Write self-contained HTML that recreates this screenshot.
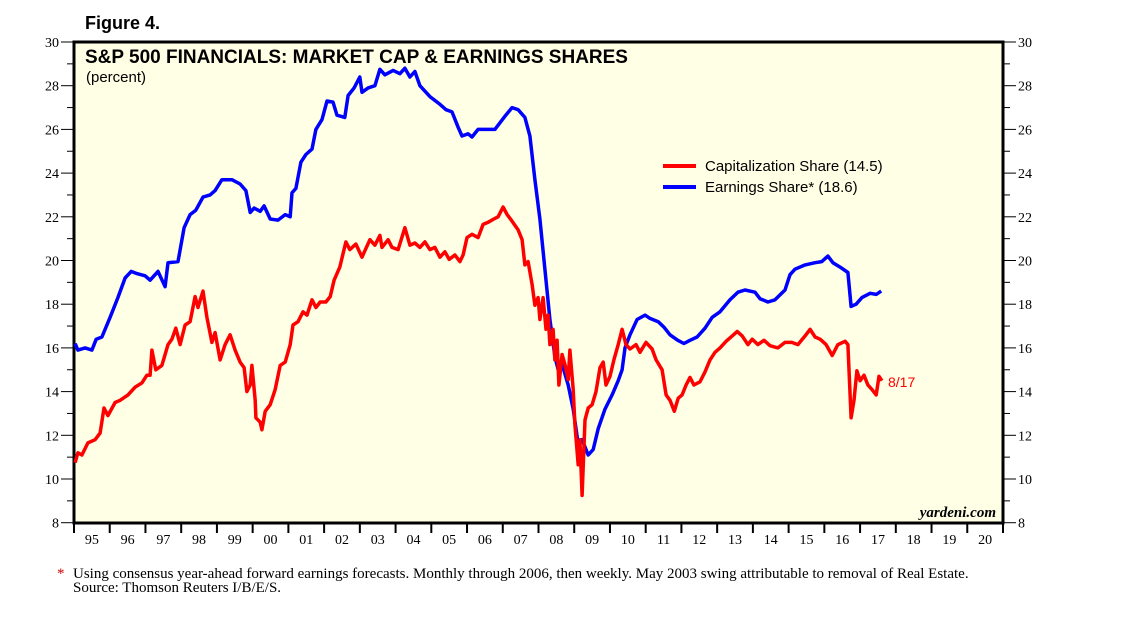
<!DOCTYPE html>
<html><head><meta charset="utf-8"><style>
body{margin:0;background:#fff;width:1138px;height:621px;overflow:hidden}
svg{display:block}
</style></head><body>
<svg id="chart" width="1138" height="621" xmlns="http://www.w3.org/2000/svg">
<text x="85" y="29" font-family="Liberation Sans, sans-serif" font-weight="bold" font-size="18">Figure 4.</text>
<rect x="74" y="42" width="929" height="481" fill="#FFFFE6" stroke="#000" stroke-width="3"/>
<text x="85" y="63" font-family="Liberation Sans, sans-serif" font-weight="bold" font-size="19">S&amp;P 500 FINANCIALS: MARKET CAP &amp; EARNINGS SHARES</text>
<text x="86" y="82" font-family="Liberation Sans, sans-serif" font-size="15">(percent)</text>
<g id="axes"></g>
<g id="series"></g>
<g>
<line x1="663" y1="166" x2="696" y2="166" stroke="#f00" stroke-width="4"/>
<text x="705" y="171" font-family="Liberation Sans, sans-serif" font-size="15">Capitalization Share (14.5)</text>
<line x1="663" y1="187" x2="696" y2="187" stroke="#00f" stroke-width="4"/>
<text x="705" y="192" font-family="Liberation Sans, sans-serif" font-size="15">Earnings Share* (18.6)</text>
</g>
<text x="888" y="387" fill="#f00" font-family="Liberation Sans, sans-serif" font-size="14">8/17</text>
<text x="996" y="517" text-anchor="end" font-family="Liberation Serif, serif" font-style="italic" font-weight="bold" font-size="15">yardeni.com</text>
<text x="57" y="578" fill="#c00" font-family="Liberation Serif, serif" font-size="15">*</text>
<text x="73" y="578" font-family="Liberation Serif, serif" font-size="15">Using consensus year-ahead forward earnings forecasts. Monthly through 2006, then weekly. May 2003 swing attributable to removal of Real Estate.</text>
<text x="73" y="592" font-family="Liberation Serif, serif" font-size="15">Source: Thomson Reuters I/B/E/S.</text>
</svg>
<script>
const yearLabels=["95","96","97","98","99","00","01","02","03","04","05","06","07","08","09","10","11","12","13","14","15","16","17","18","19","20"];
const yTicks=[8,10,12,14,16,18,20,22,24,26,28,30];
// years since 1995
const earnT=[.03,.11,.31,.50,.62,.78,1.01,1.23,1.43,1.60,1.76,1.99,2.13,2.35,2.55,2.63,2.91,3.08,3.25,3.41,3.61,3.81,3.95,4.14,4.42,4.65,4.81,4.93,5.04,5.21,5.32,5.49,5.71,5.91,6.05,6.10,6.21,6.35,6.49,6.66,6.77,6.94,7.08,7.25,7.36,7.58,7.67,7.84,8.00,8.06,8.23,8.42,8.56,8.70,8.93,9.12,9.26,9.40,9.54,9.68,9.96,10.24,10.41,10.58,10.75,10.86,11.03,11.14,11.31,11.50,11.78,12.06,12.26,12.43,12.62,12.76,12.90,13.04,13.18,13.32,13.46,13.55,13.66,13.83,13.97,14.11,14.22,14.39,14.53,14.67,14.86,15.06,15.23,15.34,15.42,15.56,15.76,15.98,16.12,16.35,16.51,16.68,16.90,17.07,17.24,17.44,17.66,17.86,18.08,18.36,18.58,18.78,19.06,19.20,19.42,19.62,19.90,20.04,20.18,20.46,20.74,20.93,21.10,21.24,21.44,21.66,21.75,21.89,22.05,22.28,22.45,22.59];
const earnV=[16.2,15.9,16.0,15.9,16.4,16.5,17.4,18.3,19.2,19.5,19.4,19.3,19.1,19.5,18.8,19.9,19.95,21.5,22.1,22.3,22.9,23.0,23.2,23.7,23.7,23.5,23.2,22.2,22.4,22.25,22.5,21.9,21.85,22.1,22.0,23.1,23.3,24.5,24.85,25.1,26.0,26.45,27.3,27.25,26.65,26.55,27.55,27.9,28.4,27.7,27.9,28.0,28.75,28.5,28.7,28.55,28.8,28.4,28.65,28.0,27.5,27.15,26.9,26.8,26.1,25.7,25.8,25.65,26.0,26.0,26.0,26.6,27.0,26.9,26.55,25.7,23.7,21.9,19.6,17.3,15.6,15.0,15.25,14.3,13.2,11.6,11.8,11.1,11.35,12.3,13.2,13.85,14.5,15.0,16.0,16.6,17.3,17.5,17.35,17.2,16.95,16.6,16.35,16.2,16.35,16.5,16.9,17.4,17.65,18.2,18.55,18.65,18.55,18.25,18.1,18.2,18.65,19.35,19.6,19.8,19.9,19.95,20.2,19.9,19.7,19.45,17.9,18.0,18.3,18.5,18.45,18.6];
const capT=[.03,.11,.22,.39,.59,.73,.84,.95,1.15,1.29,1.51,1.71,1.90,2.04,2.13,2.18,2.29,2.46,2.63,2.74,2.85,2.97,3.11,3.25,3.39,3.47,3.61,3.72,3.86,3.95,4.09,4.23,4.37,4.51,4.65,4.76,4.84,4.93,4.98,5.07,5.09,5.21,5.26,5.35,5.49,5.63,5.77,5.91,6.05,6.13,6.27,6.41,6.52,6.66,6.77,6.89,7.05,7.17,7.28,7.44,7.61,7.72,7.89,8.06,8.17,8.28,8.42,8.56,8.62,8.79,8.90,9.07,9.26,9.40,9.54,9.68,9.82,9.96,10.10,10.24,10.38,10.50,10.66,10.80,10.89,11.00,11.14,11.31,11.45,11.59,11.75,11.87,12.01,12.12,12.26,12.43,12.54,12.62,12.71,12.82,12.90,12.99,13.04,13.13,13.21,13.27,13.32,13.41,13.46,13.52,13.57,13.66,13.74,13.83,13.88,13.97,14.02,14.11,14.16,14.22,14.30,14.39,14.50,14.61,14.72,14.81,14.89,15.00,15.11,15.23,15.34,15.45,15.56,15.73,15.84,16.01,16.18,16.29,16.46,16.57,16.68,16.80,16.91,17.02,17.13,17.24,17.35,17.52,17.66,17.80,17.94,18.08,18.25,18.42,18.56,18.70,18.86,18.98,19.14,19.31,19.48,19.70,19.90,20.09,20.26,20.46,20.60,20.74,20.88,21.05,21.22,21.38,21.58,21.66,21.75,21.83,21.91,22.00,22.11,22.22,22.33,22.45,22.53,22.61];
const capV=[10.75,11.2,11.1,11.65,11.8,12.1,13.25,12.9,13.5,13.6,13.85,14.2,14.4,14.75,14.75,15.9,15.0,15.2,16.15,16.4,16.9,16.15,17.05,17.2,18.35,17.85,18.6,17.4,16.25,16.7,15.45,16.15,16.6,15.9,15.35,15.1,14.0,14.3,15.2,13.6,12.8,12.6,12.25,13.1,13.4,14.1,15.2,15.35,16.15,17.05,17.2,17.65,17.5,18.2,17.85,18.1,18.1,18.35,19.1,19.7,20.85,20.5,20.75,20.15,20.55,20.95,20.7,21.15,20.6,20.95,20.6,20.5,21.5,20.7,20.8,20.6,20.85,20.5,20.6,20.15,20.4,20.05,20.25,19.95,20.25,21.05,21.2,21.05,21.65,21.75,21.9,22.0,22.45,22.1,21.8,21.4,20.95,19.8,19.95,18.9,17.95,18.3,17.3,18.3,16.85,17.5,16.15,16.85,15.45,16.35,14.3,15.7,15.25,14.55,15.9,14.1,12.5,10.65,11.8,9.25,12.7,13.25,13.4,14.0,15.1,15.35,14.3,14.7,15.45,16.15,16.85,16.15,15.95,16.15,15.8,16.25,15.95,15.45,15.0,13.85,13.6,13.1,13.7,13.85,14.3,14.65,14.3,14.45,14.9,15.45,15.8,16.0,16.3,16.55,16.75,16.55,16.15,16.4,16.15,16.35,16.1,16.0,16.25,16.25,16.15,16.55,16.85,16.5,16.4,16.15,15.65,16.15,16.3,16.15,12.8,13.6,14.95,14.5,14.75,14.3,14.1,13.85,14.7,14.5];
const NS="http://www.w3.org/2000/svg";
const X0=74,X1=1003,Y0=522.7,Y1=42,YMIN=8,YMAX=30,NY=26;
const xs=t=>X0+t*(X1-X0)/NY;
const ys=v=>Y0-(v-YMIN)*(Y0-Y1)/(YMAX-YMIN);
function mk(tag,attrs,parent){const e=document.createElementNS(NS,tag);for(const k in attrs)e.setAttribute(k,attrs[k]);parent.appendChild(e);return e;}
const axes=document.getElementById('axes');
for(let v=8;v<=30;v++){
  const y=ys(v),major=v%2===0,len=major?13:7;
  const l=mk('line',{x1:X0-len,y1:y,x2:X0,y2:y,stroke:'#000','stroke-width':1},axes);
  
  
  const r=mk('line',{x1:X1,y1:y,x2:X1+len,y2:y,stroke:'#000','stroke-width':1},axes);
  
  
}
yTicks.forEach(v=>{
  const a=mk('text',{x:59,y:ys(v)+5,'text-anchor':'end','font-family':'Liberation Serif, serif','font-size':14},axes);a.textContent=v;
  
  
  const b=mk('text',{x:1018,y:ys(v)+5,'font-family':'Liberation Serif, serif','font-size':14},axes);b.textContent=v;
  
  
});
for(let i=0;i<=NY;i++){
  const x=xs(i);
  const t=mk('line',{x1:x,y1:523,x2:x,y2:533,stroke:'#000','stroke-width':2},axes);
  
  
}
yearLabels.forEach((s,i)=>{
  const t=mk('text',{x:xs(i+0.5),y:544,'text-anchor':'middle','font-family':'Liberation Serif, serif','font-size':14},axes);t.textContent=s;
  
  
});
const ser=document.getElementById('series');
function line(T,V,color,name){
  const d=T.map((t,i)=>(i?'L':'M')+xs(t).toFixed(1)+' '+ys(V[i]).toFixed(1)).join(' ');
  const p=mk('path',{d:d,fill:'none',stroke:color,'stroke-width':3.5,'stroke-linejoin':'round'},ser);
  
  
}
line(earnT,earnV,'#0000ff','earnings-share-line');
line(capT,capV,'#ff0000','capitalization-share-line');
</script>
</body></html>
